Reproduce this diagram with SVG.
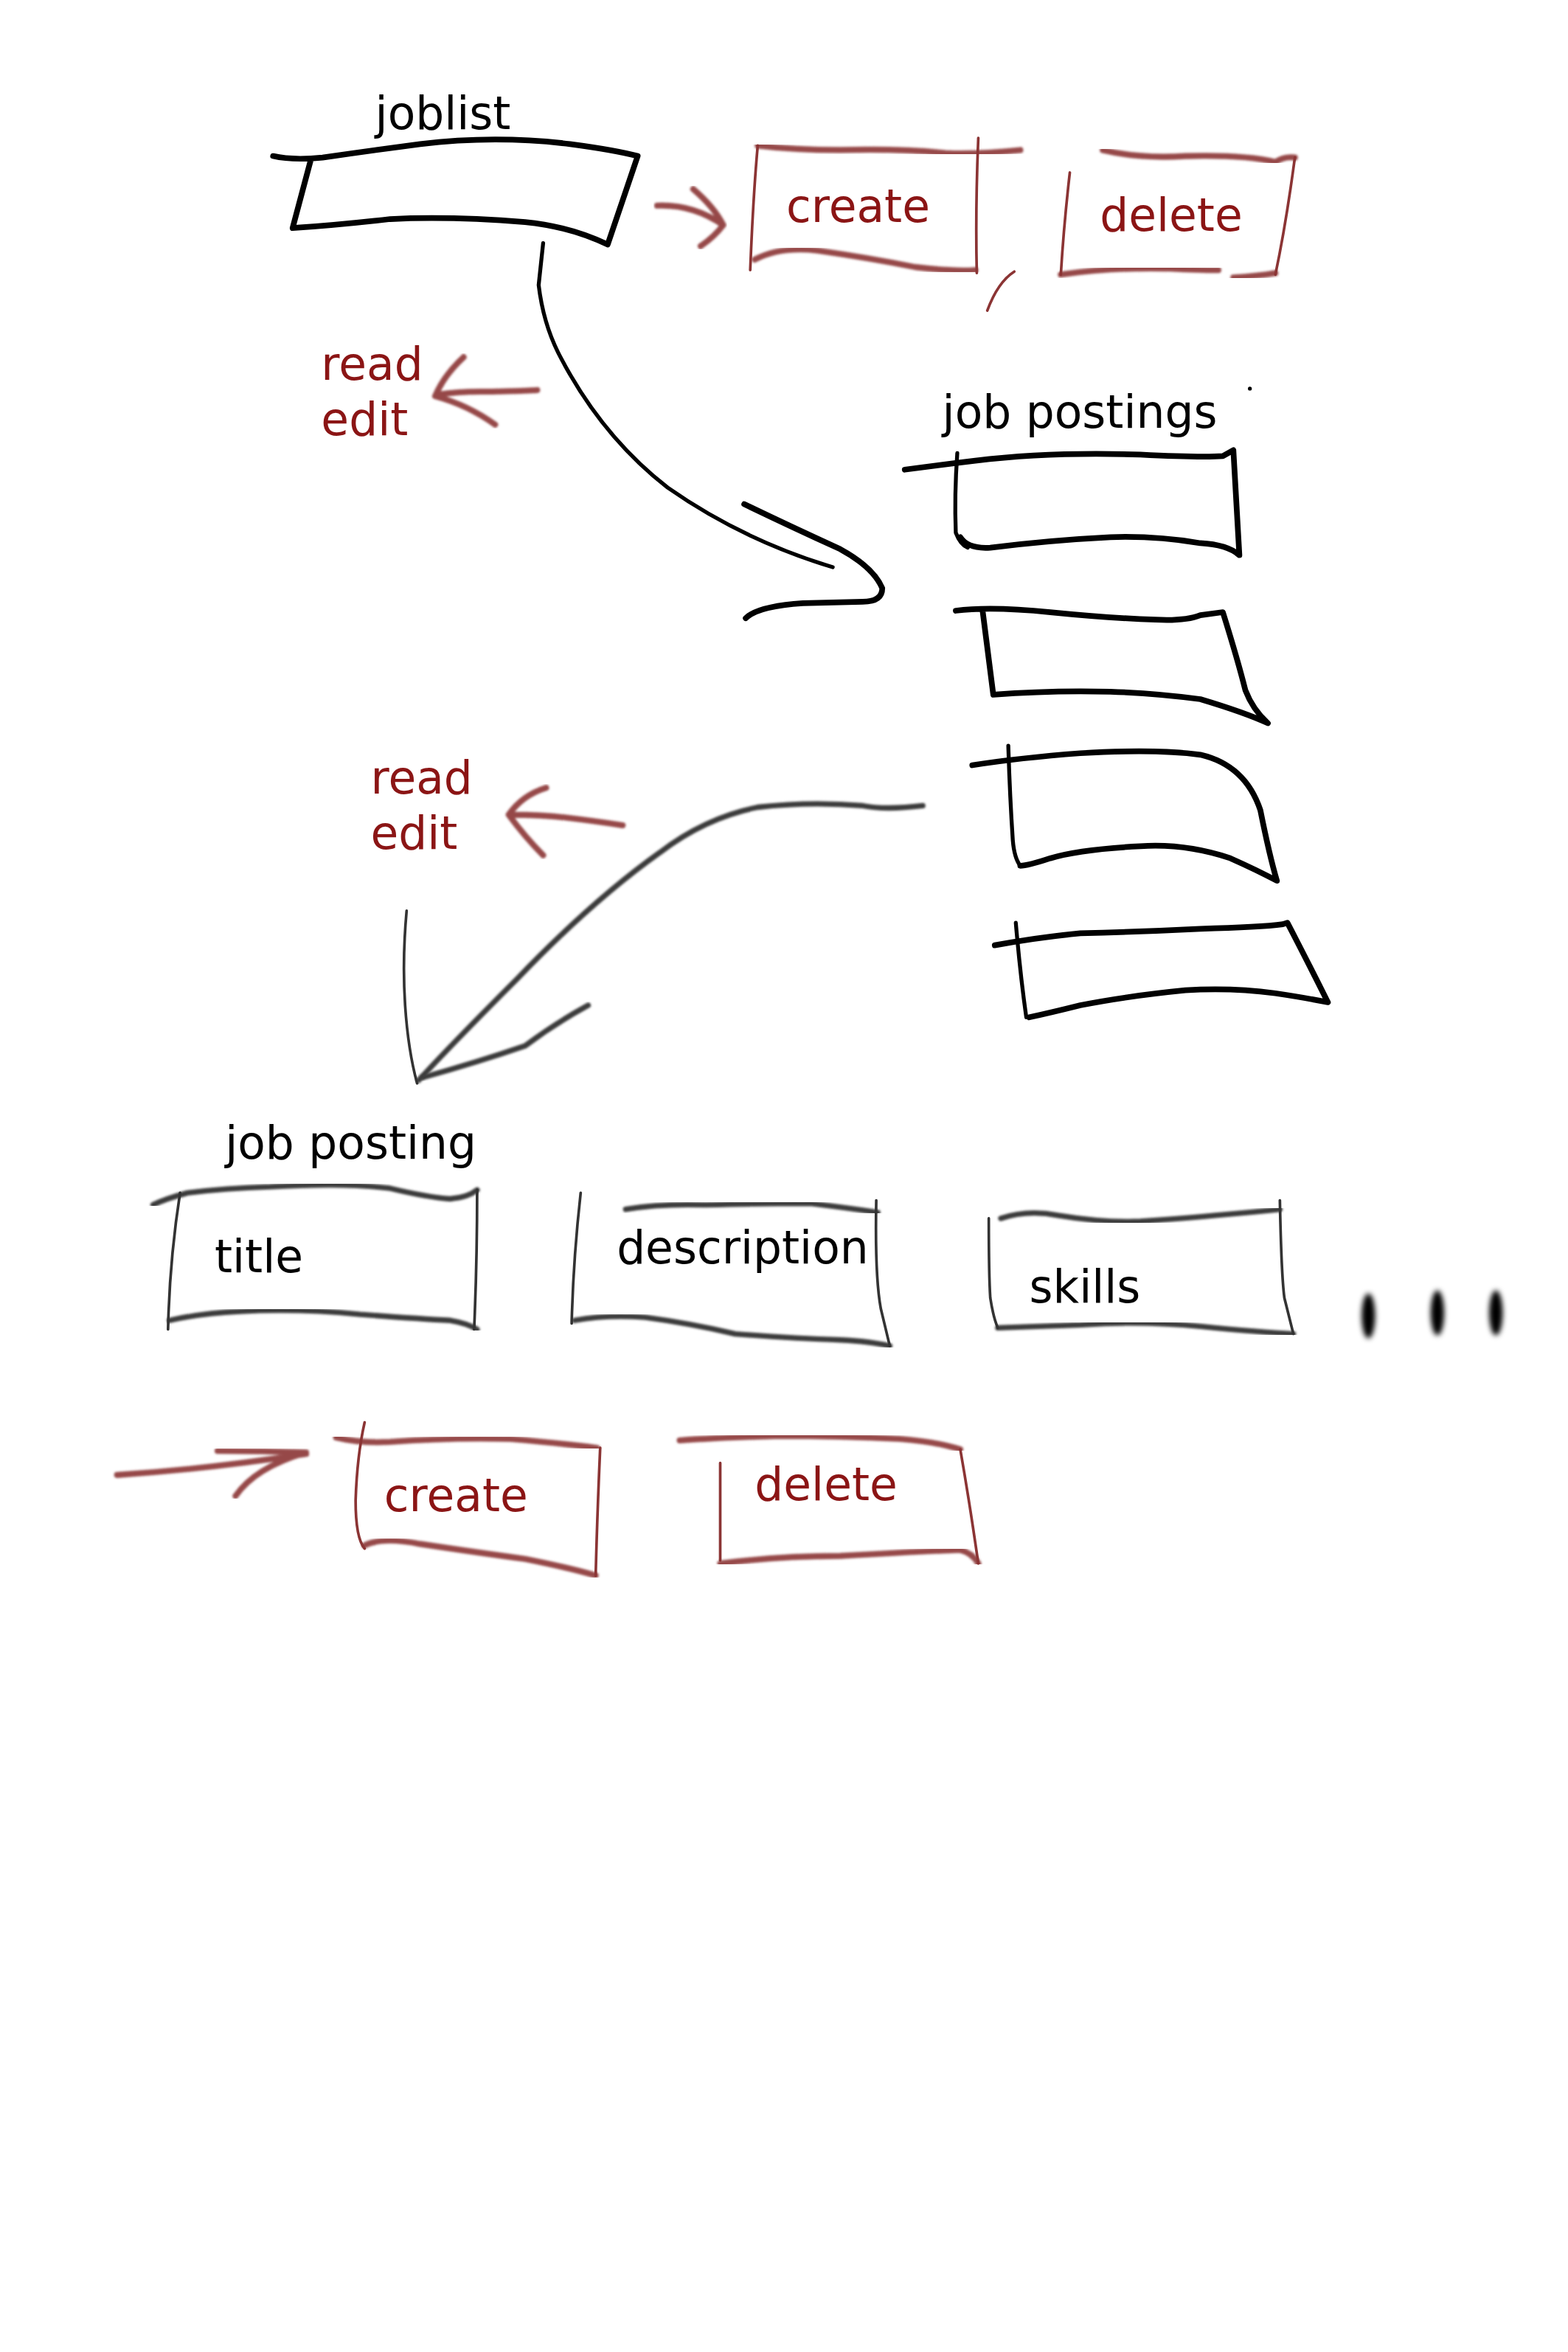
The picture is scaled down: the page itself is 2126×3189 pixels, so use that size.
<svg xmlns="http://www.w3.org/2000/svg" width="2126" height="3189" viewBox="0 0 2126 3189">
<style>
text{font-family:"DejaVu Sans","Liberation Sans",sans-serif;font-size:30.2px}
.k{fill:#000}.r{fill:#8b1515}
.bk{fill:none;stroke:#000;stroke-width:3.8;stroke-linecap:round;stroke-linejoin:round}
.bt{fill:none;stroke:#000;stroke-width:2.6;stroke-linecap:round;stroke-linejoin:round}
.rd{fill:none;stroke:#8b3434;stroke-opacity:.9;stroke-width:4;stroke-linecap:round;stroke-linejoin:round;filter:url(#soft)}
.rt{fill:none;stroke:#8b3434;stroke-width:1.8;stroke-linecap:round;stroke-linejoin:round}
.gy{fill:none;stroke:#3a3a3a;stroke-width:3.6;stroke-linecap:round;stroke-linejoin:round;filter:url(#soft)}
.gt{fill:none;stroke:#333;stroke-width:1.8;stroke-linecap:round;stroke-linejoin:round}
</style>
<defs>
<filter id="soft" x="-5%" y="-5%" width="110%" height="110%"><feGaussianBlur stdDeviation="0.7"/></filter>
<filter id="blur" x="-100%" y="-50%" width="300%" height="200%"><feGaussianBlur stdDeviation="1.8"/></filter>
</defs>
<rect width="2126" height="3189" fill="#fff"/>
<g transform="scale(2.0344)">
<g id="connectors">
<path class="bt" d="M362,162 L359,190 Q362,215 372,235 Q400,290 445,325 Q495,360 555,378"/>
<path class="bk" d="M496,336 Q525,350 560,366 Q582,378 588,392 Q588,401 575,401 L535,402 Q505,404 497,412"/>
<path class="rd" d="M438,137 Q462,136 482,150 M462,126 Q476,138 482,150 Q476,158 467,164"/>
<path class="rd" d="M358,260 Q335,261 320,261 Q305,261 292,263 M309,238 Q296,250 290,264 Q312,270 330,283"/>
<path class="gy" d="M615,537 Q590,540 575,537 Q540,534 505,538 Q470,545 440,568 Q395,600 345,652 Q300,697 279,720"/>
<path class="gt" d="M271,607 Q268,640 270,670 Q272,700 278,722"/>
<path class="gy" d="M392,670 Q370,682 350,697 Q318,708 282,718"/>
<path class="rd" d="M415,550 Q395,547 378,545 Q360,543 340,543 M364,525 Q348,530 339,543 Q350,558 362,570"/>
<path class="rd" d="M78,983 Q140,979 204,969 M145,967 Q175,967 204,968 Q170,978 157,997"/>
</g>
<g id="joblist">
<path class="bk" d="M182,104 Q195,107 215,105 Q250,100 280,96 Q330,90 380,96 Q410,100 425,104 L405,163 Q380,151 350,148 Q300,144 260,146 Q225,150 195,152 L207,107"/>
<text class="k" x="250" y="86">joblist</text>
</g>
<g id="create1">
<path class="rd" d="M505,97 Q530,100 560,100 Q600,99 630,102 Q650,103 680,100"/>
<path class="rd" d="M503,173 Q520,164 545,167 Q580,172 610,178 Q635,181 650,180"/>
<path class="rt" d="M505,97 Q502,130 500,180 M652,92 Q650,140 651,182"/>
<path class="rt" d="M676,181 Q665,188 658,207"/>
<text class="r" x="524" y="148">create</text>
</g>
<g id="delete1">
<path class="rd" d="M735,100 Q760,106 790,104 Q830,103 850,108 Q856,104 863,105"/>
<path class="rd" d="M707,183 Q740,178 780,179 Q800,180 812,180 M822,185 Q838,184 850,182"/>
<path class="rt" d="M713,115 Q709,150 707,183 M863,105 Q857,150 850,183"/>
<text class="r" x="733" y="154">delete</text>
</g>
<g id="readedit1">
<text class="r" x="214" y="253">read</text>
<text class="r" x="214" y="290">edit</text>
</g>
<g id="jobpostings">
<text class="k" x="628" y="285">job postings</text>
<circle cx="833" cy="259" r="1.3" fill="#000"/>
</g>
<g id="posting1">
<path class="bk" d="M603,313 Q625,310 650,307 Q700,301 760,303 Q800,305 815,304 L822,300 Q824,335 826,370 Q818,363 800,362 Q770,357 740,358 Q700,360 660,365 Q645,366 640,358"/>
<path class="bt" d="M638,302 Q636,330 637,355 Q640,363 645,365"/>
</g>
<g id="posting2">
<path class="bk" d="M637,407 Q660,404 700,408 Q740,412 770,413 Q790,414 800,410 L815,408 Q825,440 830,460 Q835,473 845,482 Q830,475 800,466 Q770,462 740,461 Q700,460 662,463 L655,408"/>
</g>
<g id="posting3">
<path class="bk" d="M648,510 Q680,505 720,502 Q770,499 800,503 Q830,510 840,540 Q846,570 851,587 Q838,580 820,572 Q790,562 760,564 Q720,566 700,572 Q685,577 680,577"/>
<path class="bt" d="M672,497 Q673,530 675,560 Q676,572 680,577"/>
</g>
<g id="posting4">
<path class="bk" d="M663,630 Q690,625 720,622 Q760,621 800,619 Q840,618 855,616 L858,615 Q870,638 885,668 Q870,665 850,662 Q820,658 790,660 Q750,664 720,670 Q700,675 686,678"/>
<path class="bt" d="M677,615 Q680,650 684,678"/>
</g>
<g id="readedit2">
<text class="r" x="247" y="529">read</text>
<text class="r" x="247" y="566">edit</text>
</g>
<g id="jobposting">
<text class="k" x="150" y="772">job posting</text>
</g>
<g id="title">
<path class="gy" d="M102,803 Q110,799 125,795 Q150,792 180,791 Q230,788 260,792 Q285,798 300,799 Q312,798 318,793"/>
<path class="gy" d="M113,880 Q135,875 160,874 Q200,872 240,876 Q280,879 300,880 Q312,882 318,886"/>
<path class="gt" d="M120,795 Q113,840 112,886 M318,793 Q318,840 316,886"/>
<text class="k" x="143" y="848">title</text>
</g>
<g id="description">
<path class="gy" d="M417,806 Q440,802 470,803 Q510,802 540,802 Q565,805 585,808"/>
<path class="gy" d="M383,880 Q405,876 430,878 Q460,882 490,889 Q530,892 560,893 Q580,894 593,897"/>
<path class="gt" d="M387,795 Q382,840 381,882 M584,800 Q583,850 587,872 L593,897"/>
<text class="k" x="411" y="842">description</text>
</g>
<g id="skills">
<path class="gy" d="M667,812 Q685,806 705,810 Q735,815 760,814 Q790,812 810,810 Q835,808 853,806"/>
<path class="gy" d="M665,885 Q690,884 720,883 Q760,880 800,884 Q840,888 862,889"/>
<path class="gt" d="M659,812 Q659,850 660,865 Q662,878 665,885 M853,800 Q854,850 856,865 L862,889"/>
<text class="k" x="686" y="868">skills</text>
</g>
<g id="ellipsis" filter="url(#blur)">
<ellipse cx="912" cy="877" rx="4.5" ry="15" fill="#000"/>
<ellipse cx="958" cy="875" rx="4.5" ry="15" fill="#000"/>
<ellipse cx="997" cy="875" rx="4.5" ry="15" fill="#000"/>
</g>
<g id="create2">
<path class="rd" d="M224,958 Q240,962 260,961 Q300,958 340,959 Q375,962 398,965"/>
<path class="rd" d="M243,1030 Q255,1024 280,1029 Q320,1035 350,1039 Q380,1045 397,1050"/>
<path class="rt" d="M243,948 Q238,970 237,1000 Q237,1025 243,1032 M400,965 Q398,1010 397,1050"/>
<text class="r" x="256" y="1007">create</text>
</g>
<g id="delete2">
<path class="rd" d="M453,960 Q480,958 520,957 Q560,957 600,959 Q625,961 640,966"/>
<path class="rd" d="M480,1042 Q520,1037 560,1037 Q610,1034 640,1033 Q648,1035 652,1042"/>
<path class="rt" d="M480,975 L480,1040 M640,966 Q646,1000 652,1042"/>
<text class="r" x="503" y="1000">delete</text>
</g>
</g>
</svg>
